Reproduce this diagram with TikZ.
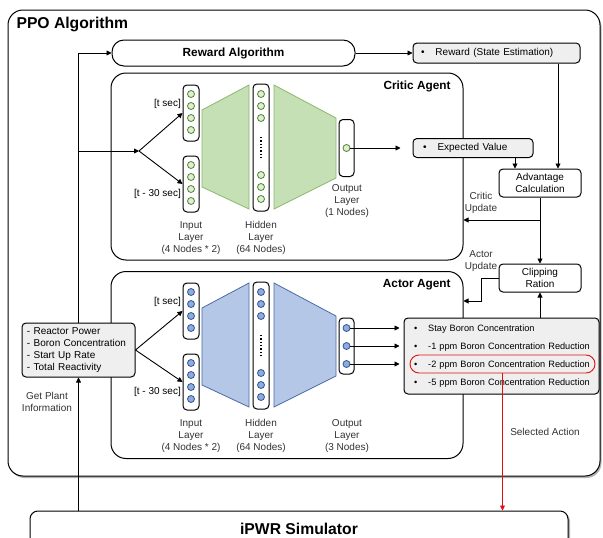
\documentclass[tikz,border=0pt]{standalone}
\usepackage{fontspec}
\setmainfont{Liberation Sans}
\usepackage{tikz}
\usetikzlibrary{arrows.meta,shadows}

\definecolor{critgreen}{HTML}{C5E0B4}
\definecolor{critedge}{HTML}{8CB86F}
\definecolor{critunit}{HTML}{DCEFD0}
\definecolor{critunitedge}{HTML}{548235}
\definecolor{actblue}{HTML}{B4C7E7}
\definecolor{actedge}{HTML}{4A6AA8}
\definecolor{actunit}{HTML}{8FAADC}
\definecolor{actunitedge}{HTML}{2F5597}
\definecolor{infogray}{HTML}{EFEFEF}
\definecolor{selred}{HTML}{E01010}
\newcommand{\clrbox}{infogray}
\newcommand{\itm}{\hspace{9pt}\textbullet\hspace{11pt}}

\tikzset{
    box/.style={draw, line width=1pt, rounded corners=4pt, align=center, inner sep=0pt, fill=white},
    infobox/.style={box, fill=\clrbox, align=left},
    agentbox/.style={draw, line width=1pt, rounded corners=15pt, inner sep=0pt, fill=white},
    layerbox/.style={draw, line width=1pt, fill=white, rounded corners=4pt, minimum width=16pt, inner sep=0pt},
    neuron/.style={circle, draw, line width=0.8pt, minimum size=7pt, inner sep=0pt},
    lbl/.style={align=center, text=black!80, inner sep=1pt},
    ttl/.style={font=\fontsize{11.8}{14}\selectfont\bfseries},
    arr/.style={line width=0.9pt, -{Triangle[length=5pt,width=5pt]}},
}

\begin{document}
\begin{tikzpicture}[x=1pt, y=-1pt, font=\fontsize{10}{12}\selectfont]
    \useasboundingbox (0,0) rectangle (603,538);

    %outer frame
    \node[agentbox, minimum width=592pt, minimum height=466pt,
        drop shadow={shadow xshift=1.5pt, shadow yshift=-2pt, fill=black!60}] (ppo) at (304,243) {};
    \node[anchor=west, font=\fontsize{15.7}{18}\selectfont\bfseries] (ppo-title) at (13,24) {PPO Algorithm};

    \node[box, rounded corners=12pt, minimum width=243pt, minimum height=26pt, ttl] (rwd) at (233.5,53) {Reward Algorithm};
    \node[infobox, text width=165pt, inner xsep=1pt, minimum height=20pt] (rest) at (496.5,53)
        {\hspace{-2pt}\itm Reward (State Estimation)};

    %agents
    \node[agentbox, minimum width=352pt, minimum height=187pt] (critic) at (287,166.5) {};
    \node[anchor=east, ttl] (critic-title) at (454,86) {Critic Agent};
    \node[agentbox, minimum width=352pt, minimum height=187pt] (actor) at (287,365) {};
    \node[anchor=east, ttl] (actor-title) at (454,285) {Actor Agent};

    \foreach \ag/\dy/\fl/\ln/\uf/\ul in
        {critic/0/critgreen/critedge/critunit/critunitedge, actor/198/actblue/actedge/actunit/actunitedge}
    {
        \begin{scope}[shift={(0,\dy)}]
            \draw[fill=\fl, draw=\ln, line width=0.8pt] (202,110) -- (249,85) -- (249,209) -- (202,187) -- cycle;
            \draw[fill=\fl, draw=\ln, line width=0.8pt] (274,85) -- (336,118) -- (336,178) -- (274,209) -- cycle;

            \node[layerbox, minimum height=56pt] (\ag-in1) at (191,113) {};
            \node[layerbox, minimum height=56pt] (\ag-in2) at (191,184) {};
            \node[layerbox, minimum height=127pt] (\ag-hid) at (261,147.5) {};
            \foreach \y [count=\i] in {94,106,118,130} {
                \node[neuron, fill=\uf, draw=\ul] (\ag-a\i) at (191,\y) {};
                \node[neuron, fill=\uf, draw=\ul] (\ag-b\i) at (191,\y+71) {};
            }
            \foreach \y [count=\i] in {94,106,118,175,187,199} {
                \node[neuron, fill=\uf, draw=\ul] (\ag-h\i) at (261,\y) {};
            }
            \draw[line width=1.3pt, dash pattern=on 1.3pt off 2pt] (261,137) -- (261,159);

            \node[anchor=east, inner sep=0pt] (\ag-t0) at (181,104) {[t sec]};
            \node[anchor=east, inner sep=0pt] (\ag-t30) at (181,194) {[t - 30 sec]};

            \node[lbl] (\ag-inlbl) at (191,238) {Input\\Layer\\(4 Nodes * 2)};
            \node[lbl] (\ag-hidlbl) at (261,238) {Hidden\\Layer\\(64 Nodes)};
        \end{scope}
    }

    %output layers
    \node[layerbox, minimum width=15pt, minimum height=57pt] (critic-out) at (346.5,148) {};
    \node[neuron, fill=critunit, draw=critunitedge] (critic-o1) at (346.5,148) {};
    \node[lbl] (critic-outlbl) at (347,201) {Output\\Layer\\(1 Nodes)};

    \node[layerbox, minimum width=15pt, minimum height=56pt] (actor-out) at (346.5,346) {};
    \foreach \y [count=\i] in {328,346,364} {
        \node[neuron, fill=actunit, draw=actunitedge] (actor-o\i) at (346.5,\y) {};
    }
    \node[lbl] (actor-outlbl) at (347,436) {Output\\Layer\\(3 Nodes)};

    %value and action boxes
    \node[infobox, text width=118pt, inner xsep=1pt, minimum height=19pt] (ev) at (473,148)
        {\itm Expected Value};
    \node[box, minimum width=82pt, minimum height=28pt] (adv) at (540,183) {Advantage\\Calculation};
    \node[box, minimum width=82pt, minimum height=28pt] (clip) at (540,278) {Clipping\\Ration};
    \node[infobox, text width=193pt, inner xsep=1pt, minimum height=76pt,
        font=\fontsize{9.2}{18}\selectfont] (act) at (501.5,356)
        {\itm Stay Boron Concentration\\
         \itm -1 ppm Boron Concentration Reduction\\
         \itm -2 ppm Boron Concentration Reduction\\
         \itm -5 ppm Boron Concentration Reduction};
    \node[draw=selred, line width=0.9pt, rounded corners=9pt, minimum width=185pt, minimum height=18pt] (sel) at (502.5,364) {};

    \node[infobox, text width=103pt, inner xsep=5pt, minimum height=54pt] (plant) at (78.5,350)
        {- Reactor Power\\- Boron Concentration\\- Start Up Rate\\- Total Reactivity};

    \node[box, rounded corners=8pt, minimum width=538pt, minimum height=36pt,
        font=\fontsize{15.7}{18}\selectfont\bfseries,
        drop shadow={shadow xshift=2pt, shadow yshift=-2pt, fill=black!60}] (sim) at (299,529) {iPWR Simulator};

    %connectors
    \coordinate (critic-split) at (139,151);
    \coordinate (ev-tap) at (515,0);
    \coordinate (rest-tap) at (558,0);
    \coordinate (crit-upd) at (540,220);
    \coordinate (act-upd) at (481,301);

    \draw[arr] (sim.north -| plant.south) -- (plant.south);
    \draw[arr] (plant.north) |- (rwd.west);
    \draw[arr] (plant.north |- critic-split) -- (critic-split);
    \draw[arr] (critic-split) -- (critic-in1.west);
    \draw[arr] (critic-split) -- (critic-in2.west);
    \draw[arr] (plant.east) -- (actor-in1.west);
    \draw[arr] (plant.east) -- (actor-in2.west);

    \draw[arr] (rwd.east) -- (rest.west);
    \draw[arr, shorten >=12pt] (critic-o1.east) -- (ev.west);
    \foreach \i in {1,2,3} {
        \draw[arr, shorten >=4pt] (actor-o\i.east) -- (actor-o\i.east -| act.west);
    }
    \draw[arr] (ev.south -| ev-tap) -- (adv.north -| ev-tap);
    \draw[arr] (rest.south -| rest-tap) -- (adv.north -| rest-tap);
    \draw[arr] (adv.south) -- (clip.north);
    \draw[arr] (crit-upd) -- (crit-upd -| critic.east);
    \draw[arr] (clip.west) -| (act-upd) -- (act-upd -| actor.east);
    \draw[arr] (act.north -| clip.south) -- (clip.south);
    \draw[arr, selred] (sel.south) -- (sel.south |- sim.north);

    \node[lbl] (plant-lbl) at (47,402) {Get Plant\\Information};
    \node[lbl] (crit-upd-lbl) at (481,203) {Critic\\Update};
    \node[lbl] (act-upd-lbl) at (481,261) {Actor\\Update};
    \node[lbl] (sel-lbl) at (545,432) {Selected Action};
\end{tikzpicture}
\end{document}
